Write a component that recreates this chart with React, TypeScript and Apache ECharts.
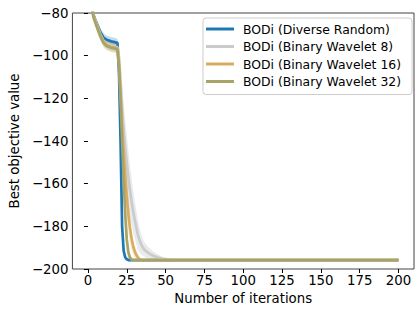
import React, { useEffect, useRef } from "react";
import * as echarts from "echarts";

const xTicks = [0, 25, 50, 75, 100, 125, 150, 175, 200];
const yTicks = [-200, -180, -160, -140, -120, -100, -80];

const seriesNames = [
  "BODi (Diverse Random)",
  "BODi (Binary Wavelet 8)",
  "BODi (Binary Wavelet 16)",
  "BODi (Binary Wavelet 32)",
];
const seriesColors = ["#1f77b4", "#c9cbcc", "#d8ad62", "#a8a466"];

const blueIters = [0, 2, 4, 6, 8, 10, 12, 15, 19, 20, 21, 22, 23, 24, 25, 26, 200];
const blueMean = [-67, -76, -82, -85.5, -89, -91.5, -92.5, -93.3, -94, -108, -140, -180, -191.5, -194.5, -195.4, -195.8, -195.8];
const blueSpread = [2, 2, 2, 2, 2, 2, 2, 2, 2, 8, 15, 8, 3, 1.5, 0.8, 0.3, 0.3];

const grayIters = [0, 2, 4, 6, 8, 10, 12, 15, 19, 20, 21, 22, 23, 24, 25, 26, 27, 28, 29, 30, 31, 32, 33, 34, 35, 36, 38, 40, 42, 45, 48, 52, 56, 200];
const grayMean = [-67, -76.5, -82, -86, -90, -93, -94.5, -95.5, -96, -101, -112, -125, -135, -143, -150, -157, -163, -168, -172.5, -176.5, -180, -183.5, -186, -188, -189.5, -190.6, -192, -193, -193.8, -194.6, -195.2, -195.6, -195.8, -195.8];
const graySpread = [2, 2, 2, 2, 2, 2, 2, 2, 2, 6, 10, 12, 13, 13, 13, 13, 12, 11, 10, 9, 8, 7, 6, 5, 4, 3.5, 3, 2.5, 2, 1.5, 1, 0.6, 0.3, 0.3];

const orangeIters = [0, 2, 4, 6, 8, 10, 12, 15, 19, 20, 21, 22, 23, 24, 25, 26, 27, 28, 29, 30, 31, 32, 33, 34, 200];
const orangeMean = [-67, -76.5, -82.5, -86.5, -90.5, -93.5, -95, -96, -96.5, -104, -118, -133, -145, -156, -166, -174, -180.5, -185.5, -189, -191.5, -193.2, -194.4, -195.2, -195.8, -195.8];
const orangeSpread = [2, 2, 2, 2, 2, 2, 2, 2, 2, 6, 9, 10, 10, 10, 9, 8, 7, 5, 4, 3, 2, 1.5, 1, 0.5, 0.3];

const oliveIters = [0, 2, 4, 6, 8, 10, 12, 15, 19, 20, 21, 22, 23, 24, 25, 26, 27, 28, 29, 200];
const oliveMean = [-67, -76.5, -83, -87, -91, -94, -95.5, -96.3, -97, -105, -120, -140, -158, -174, -186, -192, -194.5, -195.5, -195.8, -195.8];
const oliveSpread = [2, 2, 2, 2, 2, 2, 2, 2, 2, 6, 10, 12, 12, 10, 6, 3, 1.5, 0.8, 0.3, 0.3];

const allIters = [blueIters, grayIters, orangeIters, oliveIters];
const allMeans = [blueMean, grayMean, orangeMean, oliveMean];
const allSpreads = [blueSpread, graySpread, orangeSpread, oliveSpread];

const FONT = "DejaVu Sans";

export default function App() {
  const ref = useRef<HTMLDivElement>(null);
  useEffect(() => {
    if (!ref.current) return;
    const chart = echarts.init(ref.current, undefined, { renderer: "svg" });

    const bandSeries = allIters.map((iters, si) => ({
      type: "custom",
      silent: true,
      z: 1,
      data: [[100, -150]],
      renderItem: (params: any, api: any) => {
        const means = allMeans[si];
        const spreads = allSpreads[si];
        const upper = iters.map((x, i) => api.coord([x, means[i] + spreads[i]]));
        const lower = iters.map((x, i) => api.coord([x, means[i] - spreads[i]])).reverse();
        const cs = params.coordSys;
        const pts = echarts.graphic.clipPointsByRect(upper.concat(lower), {
          x: cs.x,
          y: cs.y,
          width: cs.width,
          height: cs.height,
        });
        return {
          type: "polygon",
          shape: { points: pts },
          style: { fill: seriesColors[si], opacity: si === 1 ? 0.4 : 0.25 },
        };
      },
    }));

    const lineSeries = allIters.map((iters, si) => ({
      name: seriesNames[si],
      type: "line",
      z: 3 + si,
      showSymbol: false,
      symbol: "none",
      clip: true,
      data: iters.map((x, i) => [x, allMeans[si][i]]),
      lineStyle: { color: seriesColors[si], width: 2.7 },
      itemStyle: { color: seriesColors[si] },
    }));

    chart.setOption({
      animation: false,
      grid: {
        left: 67,
        right: 6,
        top: 13,
        bottom: 44,
        show: true,
        borderColor: "#444",
        borderWidth: 1,
        backgroundColor: "transparent",
      },
      legend: {
        orient: "vertical",
        right: 8,
        top: 18,
        icon: "rect",
        itemWidth: 28,
        itemHeight: 3,
        itemGap: 3.5,
        padding: [4, 11, 6, 3],
        borderColor: "#cccccc",
        borderWidth: 1,
        borderRadius: 3,
        backgroundColor: "rgba(255,255,255,0.8)",
        textStyle: {
          fontFamily: FONT,
          fontSize: 12.4,
          color: "#000",
          lineHeight: 14,
          padding: [0, 0, 0, 4],
        },
        data: seriesNames.map((n, i) => ({ name: n, itemStyle: { color: seriesColors[i] } })),
      },
      xAxis: {
        type: "value",
        min: -10,
        max: 210,
        name: "Number of iterations",
        nameLocation: "middle",
        nameGap: 21,
        nameTextStyle: { fontFamily: FONT, fontSize: 13.3, color: "#000" },
        axisLine: { show: false },
        splitLine: { show: false },
        axisTick: {
          show: true,
          length: 4,
          lineStyle: { color: "#000" },
          customValues: xTicks,
        },
        axisLabel: {
          fontFamily: FONT,
          fontSize: 13.3,
          color: "#000",
          margin: 5,
          customValues: xTicks,
        },
      },
      yAxis: {
        type: "value",
        min: -200,
        max: -80,
        interval: 20,
        name: "Best objective value",
        nameLocation: "middle",
        nameGap: 41,
        nameTextStyle: { fontFamily: FONT, fontSize: 13.3, color: "#000" },
        axisLine: { show: false },
        splitLine: { show: false },
        axisTick: {
          show: true,
          length: 4,
          lineStyle: { color: "#000" },
          customValues: yTicks,
        },
        axisLabel: {
          fontFamily: FONT,
          fontSize: 13.3,
          color: "#000",
          margin: 4,
          customValues: yTicks,
          formatter: (v: number) => String(v).replace("-", "\u2212"),
        },
      },
      series: [...bandSeries, ...lineSeries],
    });
    return () => chart.dispose();
  }, []);

  return (
    <div
      ref={ref}
      style={{ position: "fixed", left: 0, top: 0, width: 420, height: 313, background: "#fff" }}
    />
  );
}
